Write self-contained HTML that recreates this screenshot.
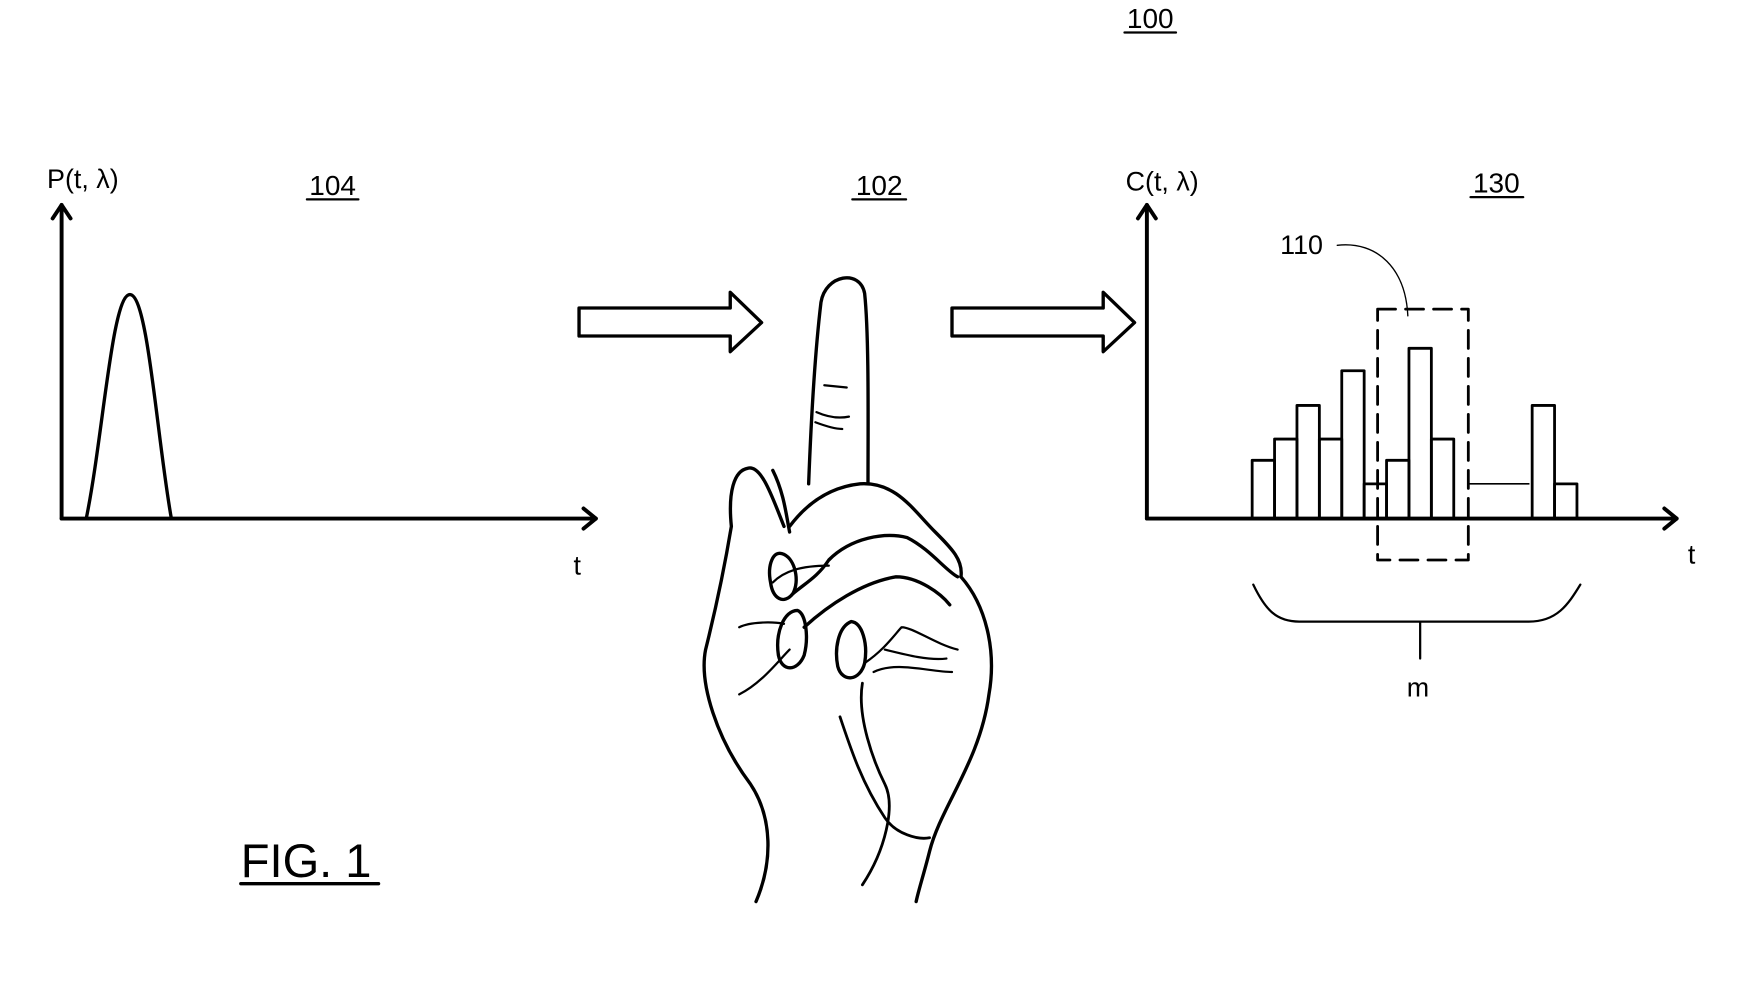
<!DOCTYPE html>
<html><head><meta charset="utf-8"><style>
html,body{margin:0;padding:0;background:#fff;}
svg{display:block;}
text{font-family:"Liberation Sans",sans-serif;fill:#000;}
</style></head><body>
<svg width="1756" height="995" viewBox="0 0 1756 995" xmlns="http://www.w3.org/2000/svg">
<g transform="scale(1.12)" fill="none" stroke="#000" stroke-linecap="round" stroke-linejoin="round">
<g stroke="none">
<text x="1027" y="25" font-size="25" text-anchor="middle">100</text>
<text x="42" y="168" font-size="24">P(t, λ)</text>
<text x="297" y="174" font-size="25" text-anchor="middle">104</text>
<text x="785" y="174" font-size="25" text-anchor="middle">102</text>
<text x="1005" y="170" font-size="24">C(t, λ)</text>
<text x="1336" y="172" font-size="25" text-anchor="middle">130</text>
<text x="1143" y="227" font-size="24">110</text>
<text x="512" y="513" font-size="24">t</text>
<text x="1507" y="503" font-size="24">t</text>
<text x="1266" y="622" font-size="24" text-anchor="middle">m</text>
<text x="215" y="783" font-size="42">FIG. 1</text>
</g>
<g stroke-width="2">
<line x1="1004" y1="29" x2="1050" y2="29"/>
<line x1="274" y1="178" x2="320" y2="178"/>
<line x1="761" y1="178" x2="809" y2="178"/>
<line x1="1313" y1="176" x2="1360" y2="176"/>
<line x1="215" y1="789" x2="338" y2="789" stroke-width="3"/>
</g>
<g stroke-width="3.5">
<polyline points="55,463 55,183"/>
<polyline points="47,195 55,183 63,195"/>
<polyline points="55,463 532,463"/>
<polyline points="521,454 532,463 521,472"/>
</g>
<path d="M77,463 C92,390 100,263 116,263 C132,263 140,390 153,463" stroke-width="3"/>
<g stroke-width="3">
<path d="M517,275 L652,275 L652,261 L680,288 L652,314 L652,300 L517,300 Z"/>
<path d="M850,275 L985,275 L985,261 L1013,288 L985,314 L985,300 L850,300 Z"/>
</g>
<g stroke-width="3.5">
<polyline points="1024,463 1024,183"/>
<polyline points="1016,195 1024,183 1032,195"/>
<polyline points="1024,463 1497,463"/>
<polyline points="1486,454 1497,463 1486,472"/>
</g>
<g stroke-width="2.5">
<rect x="1118" y="411" width="20" height="52"/>
<rect x="1138" y="392" width="20" height="71"/>
<rect x="1158" y="362" width="20" height="101"/>
<rect x="1178" y="392" width="20" height="71"/>
<rect x="1198" y="331" width="20" height="132"/>
<rect x="1218" y="432" width="20" height="31"/>
<rect x="1238" y="411" width="20" height="52"/>
<rect x="1258" y="311" width="20" height="152"/>
<rect x="1278" y="392" width="20" height="71"/>
<rect x="1368" y="362" width="20" height="101"/>
<rect x="1388" y="432" width="20" height="31"/>
</g>
<line x1="1312" y1="432" x2="1365" y2="432" stroke-width="1.5"/>
<rect x="1230" y="276" width="81" height="224" stroke-width="2.5" stroke-dasharray="16,9"/>
<path d="M1194,219 C1230,215 1255,240 1257,282" stroke-width="1.2"/>
<path d="M1119,522 C1130,545 1140,555 1160,555 L1365,555 C1390,555 1400,540 1411,522" stroke-width="2"/>
<line x1="1268" y1="555" x2="1268" y2="588" stroke-width="2"/>
<g stroke-width="3">
<path d="M722,432 C724,380 727,320 733,270 C737,245 768,240 772,262 C776,300 775,380 775,432"/>
<path d="M736,344 L756,346 M729,368 C738,372 748,374 758,372 M728,377 C736,380 746,383 752,383" stroke-width="2"/>
<path d="M700,470 C690,445 680,415 668,418 C655,420 650,440 653,470 C648,500 640,540 630,580 C624,610 640,660 670,700 C690,730 690,770 675,805"/>
<path d="M690,420 C700,440 702,460 705,475"/>
<path d="M705,470 C720,450 740,435 768,432 C800,430 815,455 835,475 C850,490 860,500 858,515"/>
<path d="M858,515 C880,540 890,580 883,620 C875,680 840,720 830,760 C825,780 820,795 818,805"/>
<path d="M700,495 C690,490 685,505 688,520 C690,535 700,540 708,530 C714,518 710,500 700,495 Z"/>
<path d="M708,530 C720,520 730,515 740,500 C760,480 790,475 810,480 C830,490 845,510 855,515"/>
<path d="M712,545 C700,545 692,565 695,585 C698,600 712,600 718,585 C722,570 720,548 712,545 Z"/>
<path d="M718,560 C740,540 770,520 800,515 C820,515 840,530 848,540"/>
<path d="M760,555 C748,560 745,580 748,595 C752,610 768,608 772,592 C775,575 770,556 760,555 Z"/>
<path d="M772,592 C790,580 800,565 805,560 C815,560 835,575 855,580" stroke-width="2"/>
<path d="M780,600 C800,590 830,600 850,600 M790,580 C810,585 830,590 845,588" stroke-width="2"/>
<path d="M770,610 C765,640 780,680 790,700 C800,720 790,760 770,790 M750,640 C760,670 770,700 790,730 C800,745 820,750 830,748" stroke-width="2.5"/>
<path d="M660,560 C670,555 690,555 700,557 M660,620 C680,610 695,590 705,580 M690,520 C700,510 715,505 740,505" stroke-width="2"/>
</g>
</g>
</svg>
</body></html>
